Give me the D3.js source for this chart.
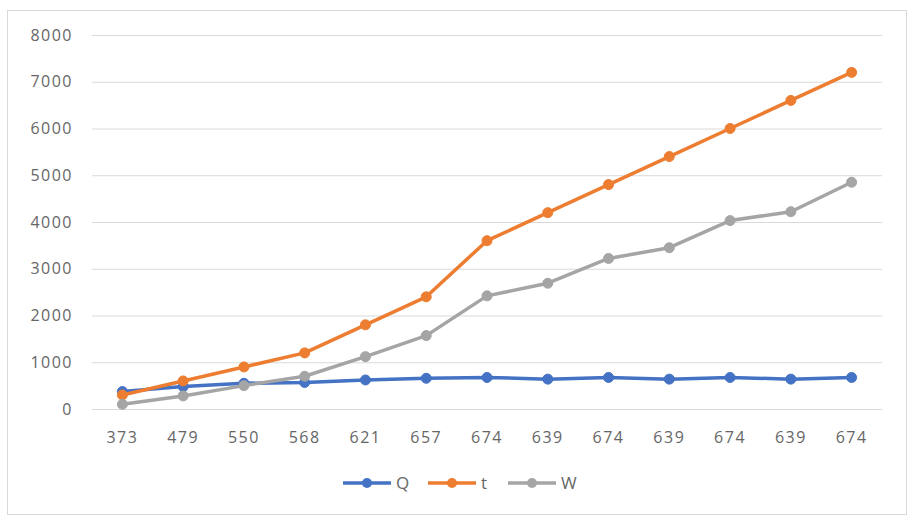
<!DOCTYPE html>
<html><head><meta charset="utf-8">
<script src="https://cdn.jsdelivr.net/npm/d3@7"></script>
<style>body{margin:0;background:#fff;} text{font-family:"Open Sans","DejaVu Sans",sans-serif;}</style>
</head><body>
<svg id="c" width="909" height="518"></svg>
<script>
const categories = ["373","479","550","568","621","657","674","639","674","639","674","639","674"];
const seriesNames = ["Q","t","W"];
const Q = [373,479,550,568,621,657,674,639,674,639,674,639,674];
const T = [300,600,900,1200,1800,2400,3600,4200,4800,5400,6000,6600,7200];
const W = [100,280,500,700,1120,1570,2420,2690,3220,3450,4030,4220,4850];
const yTicks = [0,1000,2000,3000,4000,5000,6000,7000,8000];
const colors = ["#4472C4","#ED7D31","#A5A5A5"];

(function(){
const svg = d3.select("#c");
svg.append("rect").attr("x",7.5).attr("y",10.5).attr("width",899).attr("height",504)
  .attr("fill","#fff").attr("stroke","#d9d9d9").attr("stroke-width",1);

const pL=92, pR=882, pT=35, pB=409;
const x = d3.scaleBand().domain(d3.range(categories.length)).range([pL,pR]);
const y = d3.scaleLinear().domain([0,8000]).range([pB,pT]);

const gy = svg.append("g").attr("transform",`translate(${pL},0)`)
  .call(d3.axisLeft(y).tickValues(yTicks).tickSize(-(pR-pL)).tickPadding(19).tickFormat(d3.format("d")));
gy.select(".domain").remove();
gy.selectAll(".tick line").attr("stroke","#d9d9d9").attr("stroke-width",1);
gy.selectAll(".tick text").attr("fill","#666").style("font-size","16px").style("letter-spacing","1.5px");

const gx = svg.append("g").attr("transform",`translate(0,${pB})`)
  .call(d3.axisBottom(x).tickFormat(i=>categories[i]).tickSize(0).tickPadding(23));
gx.select(".domain").remove();
gx.selectAll(".tick text").attr("fill","#666").style("font-size","16px").style("letter-spacing","1.5px");

const data = [Q,T,W];
const line = d3.line().x((d,i)=>x(i)+x.bandwidth()/2).y(d=>y(d));
data.forEach((s,k)=>{
  const g = svg.append("g");
  g.append("path").datum(s).attr("d",line).attr("fill","none")
    .attr("stroke",colors[k]).attr("stroke-width",3.5).attr("stroke-linejoin","round");
  g.selectAll("circle").data(s).join("circle")
    .attr("cx",(d,i)=>x(i)+x.bandwidth()/2).attr("cy",d=>y(d)).attr("r",5)
    .attr("fill",colors[k]).attr("stroke",colors[k]).attr("stroke-width",1);
});

const lx = [343,428,508];
const leg = svg.append("g");
seriesNames.forEach((n,k)=>{
  const g = leg.append("g").attr("transform",`translate(${lx[k]},483)`);
  g.append("line").attr("x1",0).attr("x2",48).attr("y1",0).attr("y2",0)
    .attr("stroke",colors[k]).attr("stroke-width",3.5);
  g.append("circle").attr("cx",24).attr("cy",0).attr("r",5).attr("fill",colors[k]);
  g.append("text").attr("x",53).attr("y",6).text(n).attr("fill","#666").style("font-size","17px");
});
})();
</script>
</body></html>
